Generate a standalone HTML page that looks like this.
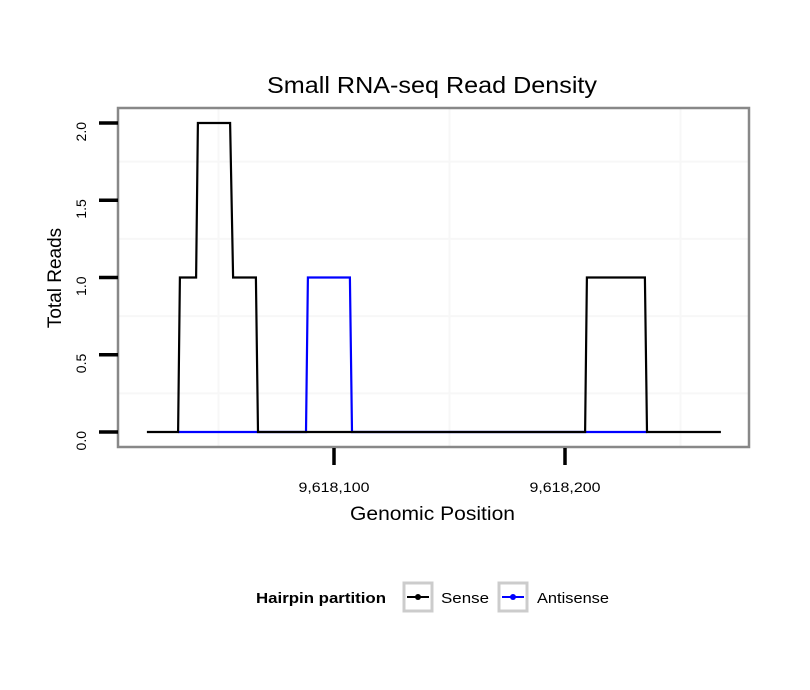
<!DOCTYPE html>
<html><head><meta charset="utf-8"><style>
body{margin:0;background:#fff;}
svg{display:block;font-family:"Liberation Sans",Arial,sans-serif;}
</style></head><body>
<svg width="810" height="690" viewBox="0 0 810 690">
<rect width="810" height="690" fill="#fff"/>
<text x="267" y="93" font-size="23" textLength="330" lengthAdjust="spacingAndGlyphs">Small RNA-seq Read Density</text>
<g id="grid"></g>
<g id="series"></g>
<rect x="118" y="108" width="631" height="339" fill="none" stroke="#888" stroke-width="2.5"/>
<g id="axes"></g>
<text x="350" y="520" font-size="19" textLength="165" lengthAdjust="spacingAndGlyphs">Genomic Position</text>
<text transform="translate(61,278) rotate(-90)" font-size="19" text-anchor="middle">Total Reads</text>
<g>
<text x="256" y="603" font-size="15" font-weight="bold" textLength="130" lengthAdjust="spacingAndGlyphs">Hairpin partition</text>
<g>
<rect x="404" y="583" width="28" height="28" fill="#fff" stroke="#ccc" stroke-width="3"/>
<line x1="407" y1="597" x2="429" y2="597" stroke="#000" stroke-width="2"/>
<circle cx="418" cy="597" r="3" fill="#000"/>
<text x="441" y="603" font-size="15" textLength="48" lengthAdjust="spacingAndGlyphs">Sense</text></g>
<g>
<rect x="499" y="583" width="28" height="28" fill="#fff" stroke="#ccc" stroke-width="3"/>
<line x1="502" y1="597" x2="524" y2="597" stroke="#00f" stroke-width="2"/>
<circle cx="513" cy="597" r="3" fill="#00f"/>
<text x="537" y="603" font-size="15" textLength="72" lengthAdjust="spacingAndGlyphs">Antisense</text></g>
</g>
</svg>
<script>
const base = 9618000;
const senseX = [19,32.5,33.3,40.3,41.1,55,56.3,66.2,67.1,208.7,209.5,234.6,235.5,267.5];
const senseY = [0,0,1,1,2,2,1,1,0,0,1,1,0,0];
const antiX = [32.5,87.9,88.7,106.9,107.8,235.5];
const antiY = [0,0,1,1,0,0];
const yTicks = [0,0.5,1,1.5,2];
const yTickLabels = ["0.0","0.5","1.0","1.5","2.0"];
const xTicks = [100,200];
const xTickLabels = ["9,618,100","9,618,200"];
const xMinor = [50,150,250];
const yMinor = [0.25,0.75,1.25,1.75];

const NS="http://www.w3.org/2000/svg";
function sx(v){return 334+(v-100)*2.31;}
function sy(v){return 432-v*154.5;}
function mk(tag,attrs,parent){const e=document.createElementNS(NS,tag);for(const k in attrs)e.setAttribute(k,attrs[k]);parent.appendChild(e);return e;}
const grid=document.getElementById('grid'),ser=document.getElementById('series'),axes=document.getElementById('axes');
xMinor.forEach(v=>{const l=mk('line',{x1:sx(v),x2:sx(v),y1:109,y2:446,stroke:'#f7f7f7','stroke-width':2},grid);

});
yMinor.forEach(v=>{const l=mk('line',{x1:119,x2:748,y1:sy(v),y2:sy(v),stroke:'#f7f7f7','stroke-width':2},grid);

});
function path(xs,ys,color,name){
 const d=xs.map((x,i)=>(i?'L':'M')+sx(x).toFixed(1)+','+sy(ys[i]).toFixed(1)).join(' ');
 const p=mk('path',{d:d,fill:'none',stroke:color,'stroke-width':2.2},ser);
 
 
}
path(antiX,antiY,'#0000ff','antisense-line');
path(senseX,senseY,'#000000','sense-line');
yTicks.forEach((v,i)=>{
 const t=mk('line',{x1:99,x2:118,y1:sy(v),y2:sy(v),stroke:'#000','stroke-width':3.5},axes);
 
 
 const tx=mk('text',{transform:`translate(86,${sy(v)-1}) rotate(-90)`,'font-size':14,'text-anchor':'end'},axes);
 tx.textContent=yTickLabels[i];
 
 
});
xTicks.forEach((v,i)=>{
 const t=mk('line',{x1:sx(v),x2:sx(v),y1:448,y2:465,stroke:'#000','stroke-width':3.5},axes);
 
 
 const tx=mk('text',{x:sx(v),y:492,'font-size':14,'text-anchor':'middle',textLength:71,lengthAdjust:'spacingAndGlyphs'},axes);
 tx.textContent=xTickLabels[i];
 
 
});
</script>
</body></html>
